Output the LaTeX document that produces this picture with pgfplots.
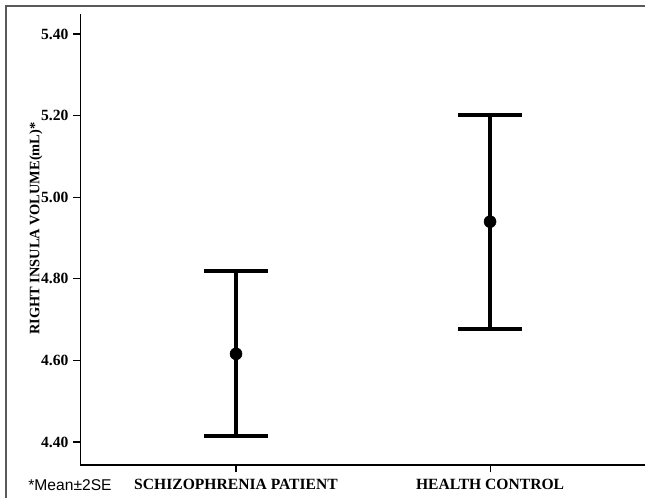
\documentclass[border=0pt]{standalone}
\usepackage{pgfplots}
\pgfplotsset{compat=1.18}
\usepackage{fontspec}
\setmainfont{Liberation Serif}
\newfontfamily\arialfont{Liberation Sans}
\begin{document}
\begin{tikzpicture}
\path[use as bounding box] (-60.375pt,-24.75pt) rectangle (423.375pt,348.75pt);
\begin{axis}[
 scale only axis, width=423.375pt, height=338.25pt,
 xmin=0.3878, xmax=2.610, ymin=4.3436, ymax=5.449,
 axis x line*=bottom, axis y line*=left,
 axis line style={line width=1pt, black},
 xtick={1,2}, xticklabels={SCHIZOPHRENIA PATIENT, HEALTH CONTROL},
 ytick={4.4,4.6,4.8,5.0,5.2,5.4},
 yticklabel style={/pgf/number format/.cd, fixed, fixed zerofill, precision=2, assume math mode=true},
 xticklabel style={yshift=-1.5pt},
 tick style={black, line width=0.8pt},
 tick align=outside, major tick length=5.5pt,
 ticklabel style={font=\bfseries\fontsize{11.7}{12}\selectfont},
 ylabel={RIGHT INSULA VOLUME(mL)*},
 ylabel style={font=\bfseries\fontsize{10.8}{12}\selectfont, at={(axis description cs:-0.0788,0.524)}, anchor=center},
 clip=false,
]
\addplot[only marks, mark=*, mark size=4.5pt, black,
  error bars/.cd, y dir=both, y explicit,
  error bar style={line width=3pt, black},
  error mark options={rotate=90, mark size=24pt, line width=3pt, black}]
 coordinates {(1,4.616) +- (0,0.202) (2,4.940) +- (0,0.262)};
\end{axis}
\draw[black!65, line width=1.5pt] (-55.875pt,-24.75pt) -- (-55.875pt,344.25pt) -- (423.375pt,344.25pt);
\node[font=\arialfont\fontsize{11.7}{12}\selectfont] at (-7.875pt,-15pt) {*Mean±2SE};
\end{tikzpicture}
\end{document}
